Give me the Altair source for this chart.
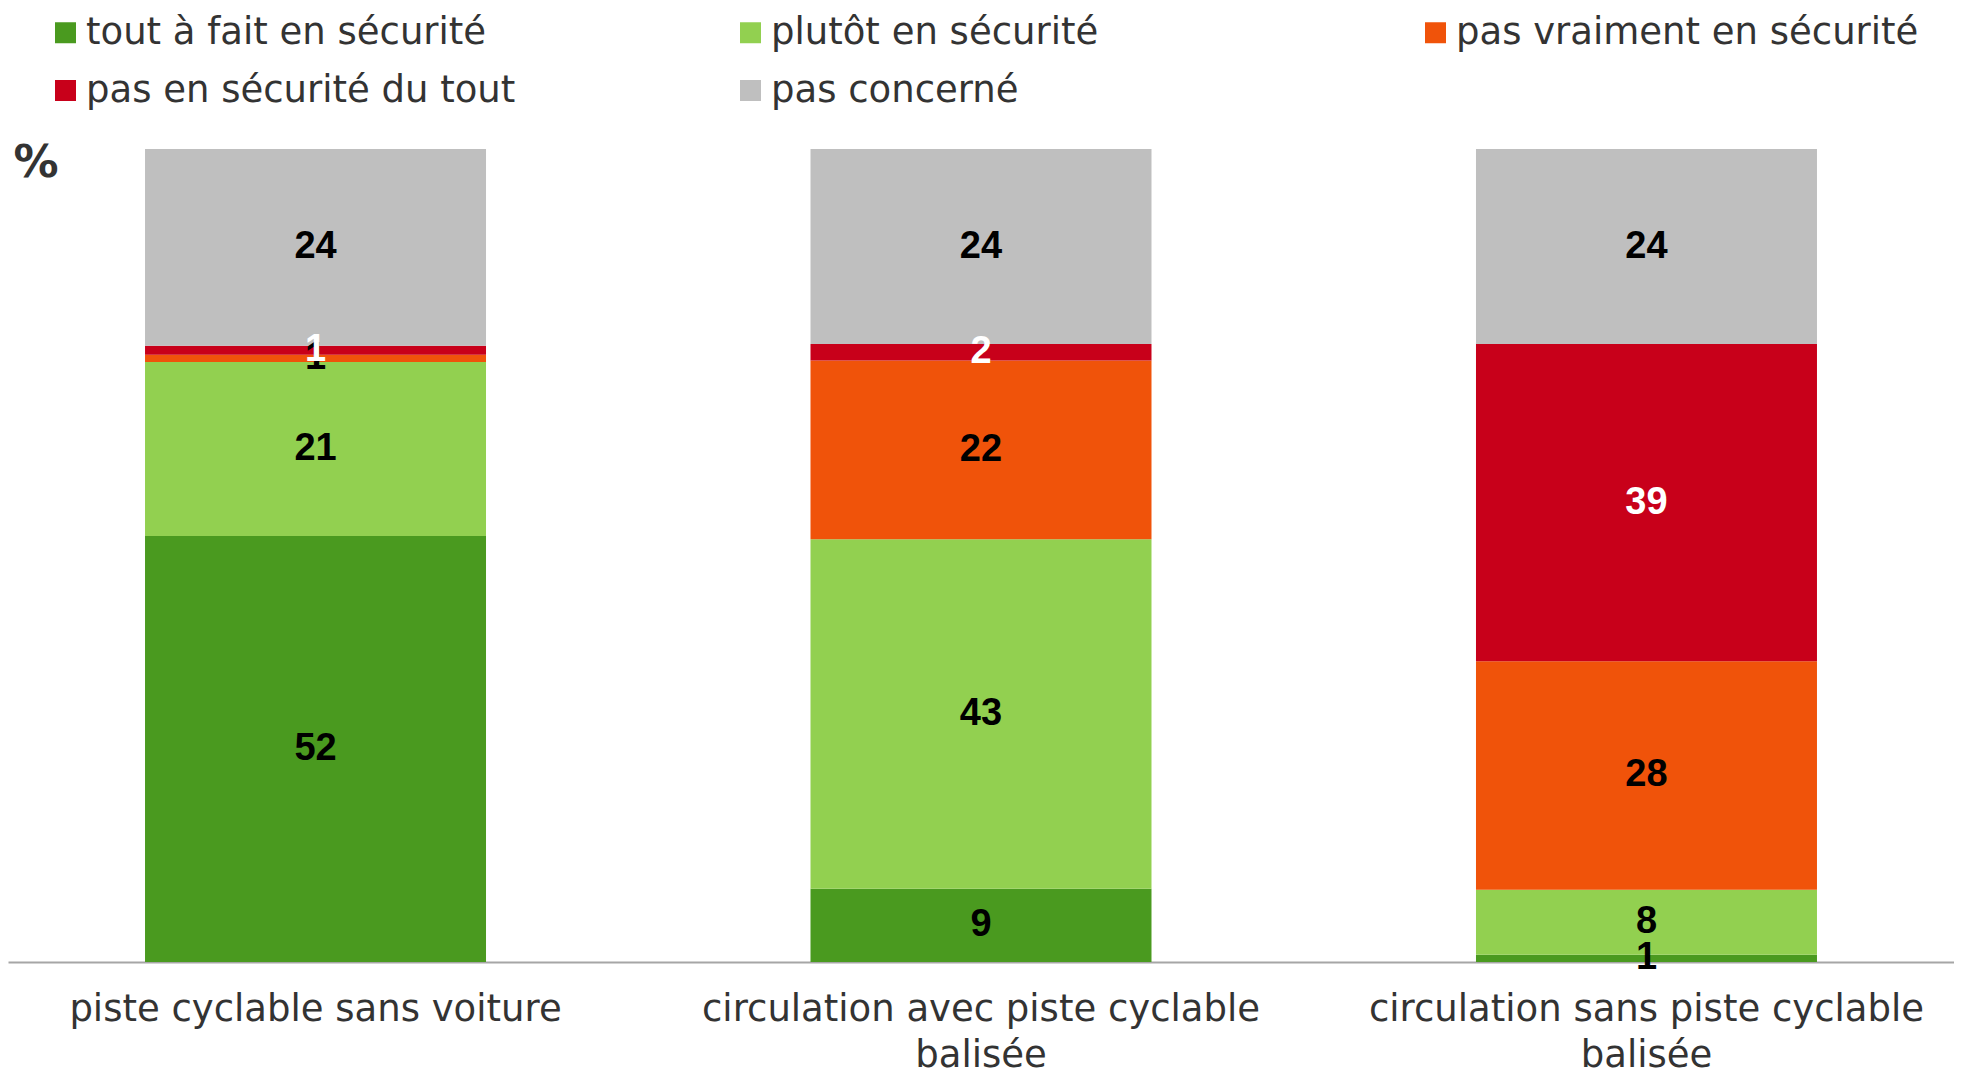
import altair as alt
import pandas as pd

categories = [
    "piste cyclable sans voiture",
    "circulation avec piste cyclable balisée",
    "circulation sans piste cyclable balisée",
]
levels = [
    "tout à fait en sécurité",
    "plutôt en sécurité",
    "pas vraiment en sécurité",
    "pas en sécurité du tout",
    "pas concerné",
]
colors = ["#4A9A1F", "#92D050", "#F0530A", "#C8001A", "#BFBFBF"]

tout_a_fait = [52.4, 9.0, 0.9]
plutot = [21.4, 43.0, 8.0]
pas_vraiment = [0.9, 22.0, 28.1]
pas_du_tout = [1.1, 2.0, 39.0]
pas_concerne = [24.2, 24.0, 24.0]

series = [tout_a_fait, plutot, pas_vraiment, pas_du_tout, pas_concerne]
rows = []
for li, (lev, vals) in enumerate(zip(levels, series)):
    for ci, cat in enumerate(categories):
        rows.append({"cat": cat, "level": lev, "ord": li, "value": vals[ci]})
df = pd.DataFrame(rows)

FONT = "DejaVu Sans"
TXT = "#333333"

x_enc = alt.X(
    "cat:N",
    sort=categories,
    scale=alt.Scale(paddingInner=0.4876, paddingOuter=0.2059),
    axis=alt.Axis(
        title=None,
        labelAngle=0,
        labelFont=FONT,
        labelFontSize=37,
        labelColor=TXT,
        labelPadding=29,
        labelLineHeight=46,
        labelBaseline="top",
        labelLimit=1000,
        ticks=False,
        grid=False,
        domainColor="#A6A6A6",
        domainWidth=2,
        labelExpr="indexof(datum.label, ' balisée') > 0 ? [replace(datum.label, ' balisée', ''), 'balisée'] : datum.label",
    ),
)

y_axis = alt.Axis(
    labels=False,
    ticks=False,
    domain=False,
    grid=False,
    title="%",
    titleAngle=0,
    titleX=5,
    titleY=13,
    titleAlign="left",
    titleBaseline="middle",
    titleFont=FONT,
    titleFontSize=45,
    titleFontWeight="bold",
    titleColor=TXT,
    minExtent=0,
)
y_scale = alt.Scale(domain=[0, 100], nice=False)

base = alt.Chart(df).transform_stack(
    stack="value",
    groupby=["cat"],
    as_=["y0", "y1"],
    sort=[alt.SortField("ord", order="ascending")],
).transform_calculate(mid="(datum.y0 + datum.y1) / 2")

bars = base.mark_bar(strokeWidth=0).encode(
    x=x_enc,
    y=alt.Y("y0:Q", scale=y_scale, axis=y_axis),
    y2="y1:Q",
    color=alt.Color(
        "level:N",
        scale=alt.Scale(domain=levels, range=colors),
        legend=alt.Legend(
            title=None,
            orient="none",
            direction="horizontal",
            legendX=39,
            legendY=-135,
            columns=3,
            columnPadding=183,
            rowPadding=20,
            gridAlign="all",
            symbolType="square",
            symbolSize=441,
            symbolStrokeWidth=0,
            labelFont=FONT,
            labelFontSize=37,
            labelColor=TXT,
            labelOffset=2,
            labelLimit=1000,
        ),
    ),
)

labels = base.mark_text(
    font="Liberation Sans", fontSize=38, fontWeight="bold", baseline="middle"
).encode(
    x=x_enc,
    y=alt.Y("mid:Q", scale=y_scale, axis=y_axis),
    text=alt.Text("value:Q", format=".0f"),
    color=alt.condition(
        alt.datum.level == "pas en sécurité du tout", alt.value("white"), alt.value("black")
    ),
    order=alt.Order("ord:Q"),
)

chart = (
    alt.layer(bars, labels)
    .properties(
        width=1946,
        height=813,
        background="white",
        padding={"left": 0, "top": 6, "right": 0, "bottom": 0},
    )
    .configure_view(strokeWidth=0, stroke="transparent")
)

chart.save("out.html", embed_options={"renderer": "svg", "actions": False})
